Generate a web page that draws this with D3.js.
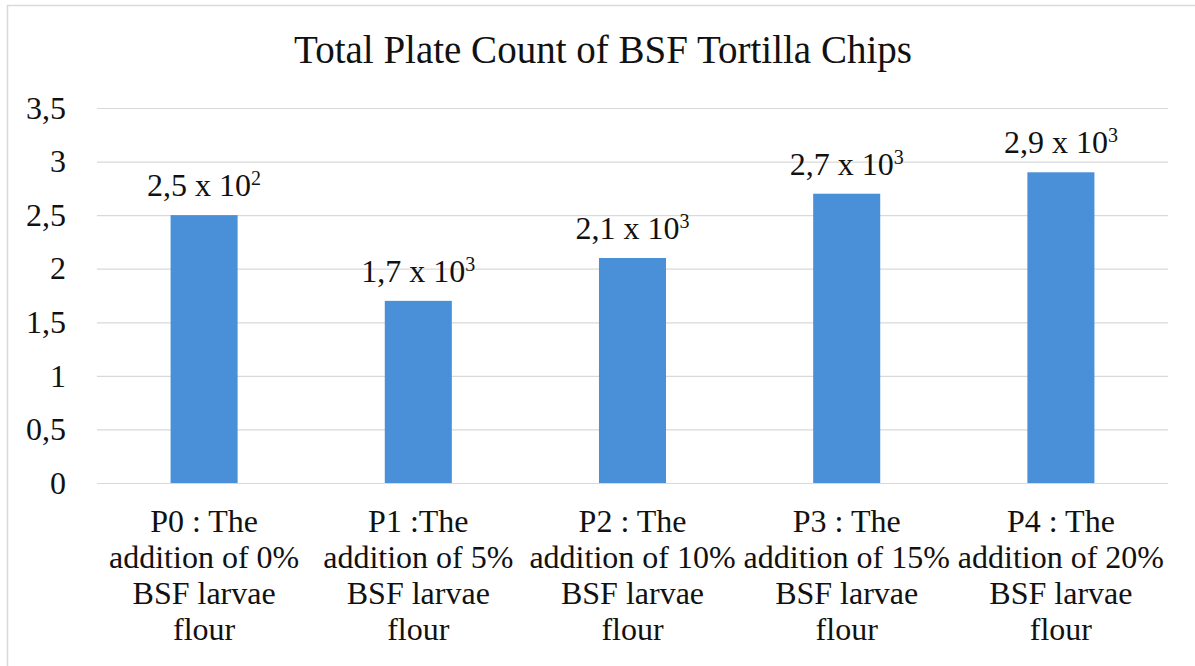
<!DOCTYPE html>
<html>
<head>
<meta charset="utf-8">
<script src="https://cdn.jsdelivr.net/npm/d3@7"></script>
</head>
<body style="margin:0">
<script>
var categories = [
    ["P0 : The", "addition of 0%", "BSF larvae", "flour"],
    ["P1 :The", "addition of 5%", "BSF larvae", "flour"],
    ["P2 : The", "addition of 10%", "BSF larvae", "flour"],
    ["P3 : The", "addition of 15%", "BSF larvae", "flour"],
    ["P4 : The", "addition of 20%", "BSF larvae", "flour"]
];
var values = [2.5, 1.7, 2.1, 2.7, 2.9];
var labelBase = ["2,5 x 10", "1,7 x 10", "2,1 x 10", "2,7 x 10", "2,9 x 10"];
var labelExp = ["2", "3", "3", "3", "3"];
var yTicks = [0, 0.5, 1, 1.5, 2, 2.5, 3, 3.5];

var FONT = "'Times New Roman', 'Liberation Serif', Tinos, serif";

var svgWidth = 1195, svgHeight = 666;
var margin = { top: 108, right: 27, bottom: 183, left: 97 };
var width = svgWidth - margin.left - margin.right;
var height = svgHeight - margin.top - margin.bottom;

var svg = d3.select("body").append("svg")
    .attr("width", svgWidth)
    .attr("height", svgHeight)
    .style("font-family", FONT);

// chart border (runs off the right and bottom edge)
svg.append("rect")
    .attr("x", 7.5).attr("y", 5.5)
    .attr("width", 1200).attr("height", 700)
    .attr("fill", "none")
    .attr("stroke", "#d9d9d9")
    .attr("stroke-width", 1.5);

svg.append("text")
    .attr("x", 603).attr("y", 63)
    .attr("text-anchor", "middle")
    .style("font-family", FONT)
    .attr("font-size", 39)
    .attr("fill", "#111")
    .text("Total Plate Count of BSF Tortilla Chips");

var g = svg.append("g")
    .attr("transform", "translate(" + margin.left + "," + margin.top + ")");

var xscale = d3.scaleBand()
    .domain(d3.range(values.length))
    .range([0, width])
    .padding(0);

var yscale = d3.scaleLinear()
    .domain([0, 3.5])
    .range([height, 0]);

// gridlines
g.append("g")
    .call(d3.axisLeft(yscale).tickValues(yTicks).tickSize(-width).tickFormat(""))
    .call(function(a) { a.select(".domain").remove(); })
    .selectAll("line")
    .attr("stroke", "#d9d9d9")
    .attr("stroke-width", 1.2);

// y tick labels
var yAxis = g.append("g")
    .call(d3.axisLeft(yscale).tickValues(yTicks).tickSize(0).tickPadding(31)
        .tickFormat(function(d) { return String(d).replace(".", ","); }));
yAxis.attr("font-family", null).attr("font-size", 32);
yAxis.select(".domain").remove();
yAxis.selectAll("text").attr("fill", "#111").style("font-family", FONT);

var barW = xscale.bandwidth() * 0.313;

g.selectAll(".bar")
    .data(values)
    .enter().append("rect")
    .attr("class", "bar")
    .attr("x", function(d, i) { return xscale(i) + xscale.bandwidth() / 2 - barW / 2; })
    .attr("y", function(d) { return yscale(d); })
    .attr("width", barW)
    .attr("height", function(d) { return height - yscale(d); })
    .attr("fill", "#4a90d9");

// value labels
var lbl = g.selectAll(".vlabel")
    .data(values)
    .enter().append("text")
    .attr("class", "vlabel")
    .attr("x", function(d, i) { return xscale(i) + xscale.bandwidth() / 2; })
    .attr("y", function(d) { return yscale(d) - 19; })
    .attr("text-anchor", "middle")
    .style("font-family", FONT)
    .attr("font-size", 32)
    .attr("fill", "#111");
lbl.append("tspan").text(function(d, i) { return labelBase[i]; });
lbl.append("tspan")
    .attr("dy", -11)
    .attr("font-size", 20)
    .text(function(d, i) { return labelExp[i]; });

// category labels
var cat = g.selectAll(".cat")
    .data(categories)
    .enter().append("text")
    .attr("class", "cat")
    .attr("text-anchor", "middle")
    .attr("transform", function(d, i) {
        return "translate(" + (xscale(i) + xscale.bandwidth() / 2) + "," + (height + 49) + ")";
    })
    .style("font-family", FONT)
    .attr("font-size", 32)
    .attr("fill", "#111");
cat.selectAll("tspan")
    .data(function(d) { return d; })
    .enter().append("tspan")
    .attr("x", 0)
    .attr("dy", function(d, j) { return j === 0 ? 0 : 36; })
    .text(function(d) { return d; });
</script>
</body>
</html>
